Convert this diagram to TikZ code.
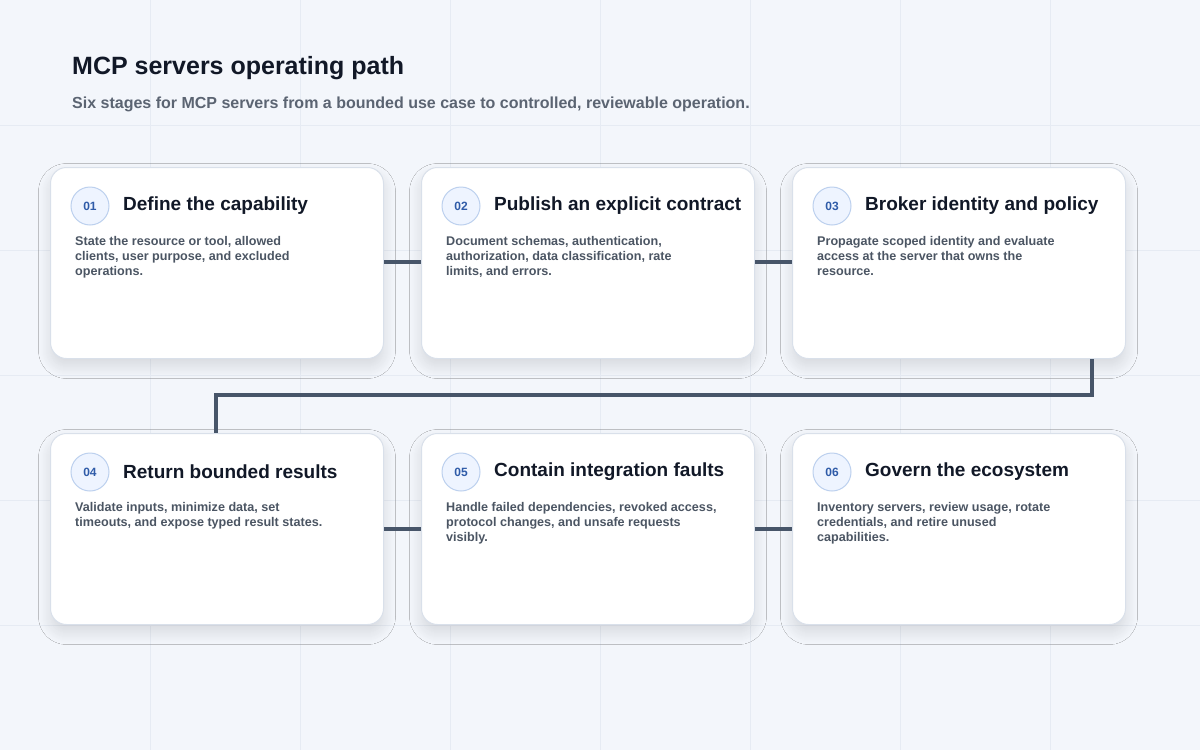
\documentclass[tikz,border=0pt]{standalone}
\usepackage{fontspec}
\setmainfont{Liberation Sans}
\usetikzlibrary{shadows.blur}
\definecolor{bg}{HTML}{F3F6FB}
\definecolor{gridc}{HTML}{E6EBF3}
\definecolor{cardb}{HTML}{D9E0EA}
\definecolor{ink}{HTML}{111827}
\definecolor{sub}{HTML}{5B6472}
\definecolor{body}{HTML}{4B5563}
\definecolor{line}{HTML}{475569}
\definecolor{badgef}{HTML}{EEF4FF}
\definecolor{badgeb}{HTML}{BCD0EE}
\definecolor{badget}{HTML}{2F5BA8}
\begin{document}
\begin{tikzpicture}[x=1pt,y=-1pt,
  card/.style={draw=cardb,line width=1pt,fill=white,rounded corners=16pt,minimum width=333pt,minimum height=191pt,anchor=north west,blur shadow={shadow xshift=0pt,shadow yshift=-8pt,shadow opacity=12,shadow blur steps=12,shadow blur radius=12pt}},
  badge/.style={circle,draw=badgeb,fill=badgef,line width=1pt,minimum size=38pt,inner sep=0pt,font=\fontsize{12}{12}\selectfont\bfseries,text=badget},
  ttl/.style={anchor=west,font=\fontsize{19}{22}\selectfont\bfseries,text=ink,inner sep=0pt},
  bdy/.style={anchor=north west,align=left,font=\fontsize{12.6}{15}\selectfont\bfseries,text=body,inner sep=0pt},
  conn/.style={draw=line,line width=3.5pt}]
\useasboundingbox (0,0) rectangle (1200,750);
\fill[bg] (0,0) rectangle (1200,750);
\foreach \x in {150,300,...,1050} \draw[gridc,line width=0.8pt] (\x,0) -- (\x,750);
\foreach \y in {125,250,...,625} \draw[gridc,line width=0.8pt] (0,\y) -- (1200,\y);
\node[anchor=west,inner sep=0,font=\fontsize{25}{28}\selectfont\bfseries,text=ink] (title) at (72,68) {MCP servers operating path};
\node[anchor=west,inner sep=0,font=\fontsize{16}{18}\selectfont\bfseries,text=sub] (subt) at (72,104) {Six stages for MCP servers from a bounded use case to controlled, reviewable operation.};
% connectors (behind cards)
\coordinate (j1) at (1092,395);
\coordinate (j2) at (216,395);
\foreach \i/\x/\y/\n/\t/\b in {
 1/50/167/01/Define the capability/{State the resource or tool, allowed\\clients, user purpose, and excluded\\operations.},
 2/421/167/02/Publish an explicit contract/{Document schemas, authentication,\\authorization, data classification, rate\\limits, and errors.},
 3/792/167/03/Broker identity and policy/{Propagate scoped identity and evaluate\\access at the server that owns the\\resource.},
 4/50/433/04/Return bounded results/{Validate inputs, minimize data, set\\timeouts, and expose typed result states.},
 5/421/433/05/Contain integration faults/{Handle failed dependencies, revoked access,\\protocol changes, and unsafe requests\\visibly.},
 6/792/433/06/Govern the ecosystem/{Inventory servers, review usage, rotate\\credentials, and retire unused\\capabilities.}}{
 \node[card] (c\i) at (\x,\y) {};
 \node[badge] (b\i) at (\x+40,\y+39) {\n};
 \node[ttl] (t\i) at (\x+73,\y+39) {\t};
 \node[bdy] (d\i) at (\x+25,\y+69) {\b};
}
\begin{scope}[on background layer/.style={}]
\end{scope}
\draw[conn] (c1.east |- 0,262) -- (c2.west |- 0,262);
\draw[conn] (c2.east |- 0,262) -- (c3.west |- 0,262);
\draw[conn] (c4.east |- 0,529) -- (c5.west |- 0,529);
\draw[conn] (c5.east |- 0,529) -- (c6.west |- 0,529);
\draw[conn] (c3.south -| j1) -- (j1) -- (j2) -- (c4.north -| j2);
\end{tikzpicture}
\end{document}
